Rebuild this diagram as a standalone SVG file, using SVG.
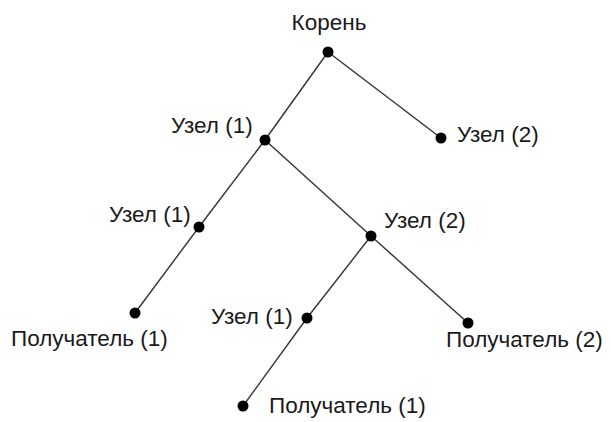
<svg xmlns="http://www.w3.org/2000/svg" width="611" height="422" viewBox="0 0 611 422">
<style>
.lbl{font-family:"Liberation Sans",Arial,sans-serif;font-size:22.5px;fill:#1a1a1a}
.edge{stroke:#333;stroke-width:1.4;fill:none}
.dot{fill:#000}
</style>
<rect width="611" height="422" fill="#fff"/>
<g id="connectors">
<line class="edge" x1="328" y1="52" x2="265" y2="140"/>
<line class="edge" x1="328" y1="52" x2="441" y2="138"/>
<line class="edge" x1="265" y1="140" x2="199" y2="227"/>
<line class="edge" x1="265" y1="140" x2="371" y2="236"/>
<line class="edge" x1="199" y1="227" x2="135" y2="313"/>
<line class="edge" x1="371" y1="236" x2="307" y2="318"/>
<line class="edge" x1="371" y1="236" x2="468" y2="323"/>
<line class="edge" x1="307" y1="318" x2="243" y2="406"/>
</g>
<g id="root"><circle class="dot" cx="328" cy="52" r="5.5"/><text class="lbl" x="329" y="30" text-anchor="middle">Корень</text></g>
<g id="n1"><circle class="dot" cx="265" cy="140" r="5.5"/><text class="lbl" x="171" y="133">Узел (1)</text></g>
<g id="n2"><circle class="dot" cx="441" cy="138" r="5.5"/><text class="lbl" x="457" y="142">Узел (2)</text></g>
<g id="n11"><circle class="dot" cx="199" cy="227" r="5.5"/><text class="lbl" x="109" y="222">Узел (1)</text></g>
<g id="r1a"><circle class="dot" cx="135" cy="313" r="5.5"/><text class="lbl" x="11" y="346">Получатель (1)</text></g>
<g id="n12"><circle class="dot" cx="371" cy="236" r="5.5"/><text class="lbl" x="384" y="228">Узел (2)</text></g>
<g id="n121"><circle class="dot" cx="307" cy="318" r="5.5"/><text class="lbl" x="211" y="324">Узел (1)</text></g>
<g id="r2"><circle class="dot" cx="468" cy="323" r="5.5"/><text class="lbl" x="446" y="347">Получатель (2)</text></g>
<g id="r1b"><circle class="dot" cx="243" cy="406" r="5.5"/><text class="lbl" x="269" y="413">Получатель (1)</text></g>
</svg>
